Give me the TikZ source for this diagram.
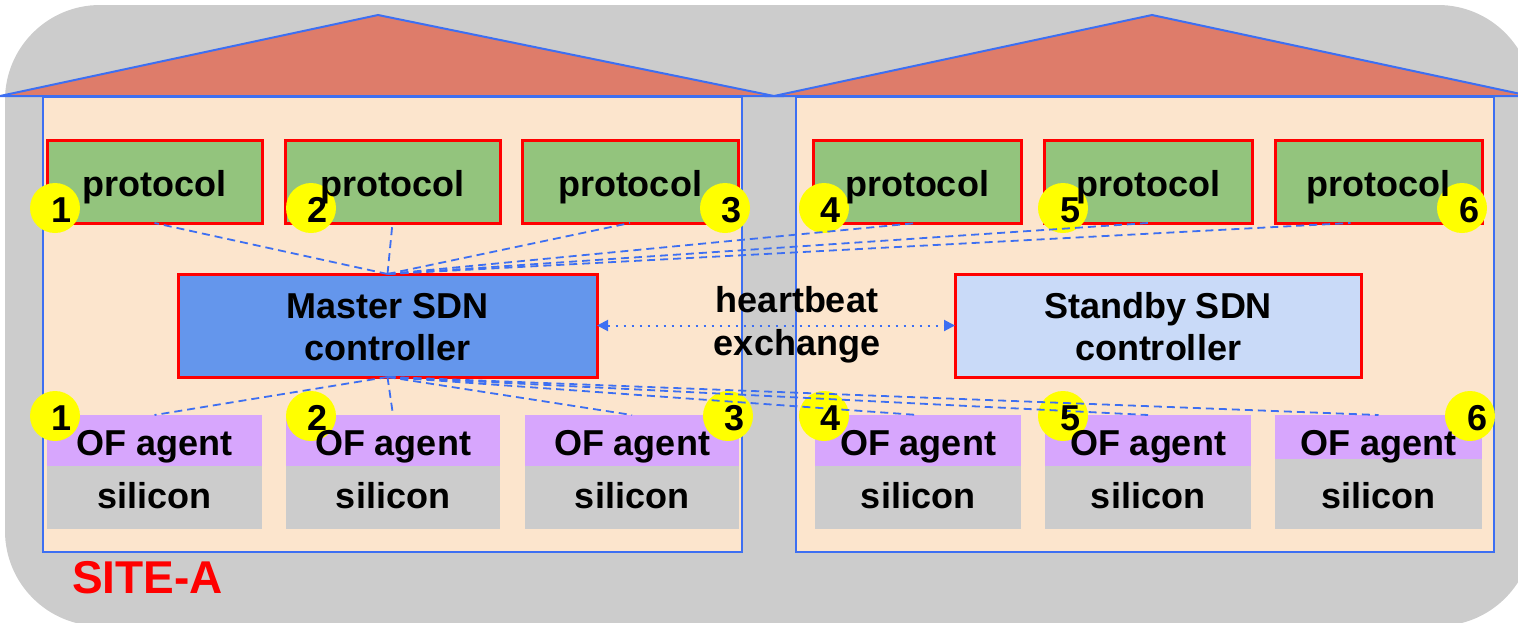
\documentclass[tikz,border=0pt]{standalone}
\usepackage{fontspec}
\setmainfont{Liberation Sans}
\usetikzlibrary{arrows.meta}
\definecolor{bggray}{HTML}{CCCCCC}
\definecolor{roofred}{HTML}{DE7C6A}
\definecolor{wall}{HTML}{FCE5CD}
\definecolor{edgeblue}{HTML}{3D6FF2}
\definecolor{protogreen}{HTML}{93C47D}
\definecolor{mastblue}{HTML}{6496EC}
\definecolor{standblue}{HTML}{C9DAF8}
\definecolor{agentpurple}{HTML}{D7A6FD}
\definecolor{chipgray}{HTML}{CCCCCC}
\definecolor{marker}{HTML}{FFFF00}

\begin{document}
\begin{tikzpicture}[x=1pt,y=-1pt,
  txt/.style={font=\fontsize{36}{40}\selectfont\bfseries, inner sep=0pt, anchor=base},
  redbox/.style={draw=red, line width=3pt, inner sep=0pt, outer sep=0pt},
  house/.style={fill=wall, draw=edgeblue, line width=2pt, inner sep=0pt, outer sep=0pt, anchor=north west},
  roof/.style={fill=roofred, draw=edgeblue, line width=2pt, line join=miter},
  flat/.style={inner sep=0pt, outer sep=0pt, anchor=north west},
  dot/.style={circle, fill=marker, minimum size=50pt, inner sep=0pt},
  num/.style={font=\fontsize{36}{40}\selectfont\bfseries, inner sep=0pt, anchor=base},
  link/.style={draw=edgeblue, line width=1.8pt, dash pattern=on 8pt off 5pt},
  hb/.style={draw=edgeblue, line width=2pt, dash pattern=on 2pt off 6pt,
    {Triangle[length=11pt,width=11pt]}-{Triangle[length=11pt,width=11pt]}}
]
\useasboundingbox (0,0) rectangle (1518,622);
\begin{scope}
\clip (0,0) rectangle (1518,622);
% site background
\fill[bggray, rounded corners=95pt] (5,5) rectangle (1533,626);
% roofs
\draw[roof] (0,96) -- (378,15) -- (774,96) -- cycle;
\draw[roof] (774,96) -- (1152,15) -- (1530,96) -- cycle;
\end{scope}

% buildings
\node[house, minimum width=699pt, minimum height=455pt] (siteL) at (43,97) {};
\node[house, minimum width=698pt, minimum height=455pt] (siteR) at (796,97) {};

% protocol boxes
\foreach \i/\xl/\xr in {1/47/262, 2/285/500, 3/522/738, 4/813/1021, 5/1044/1252, 6/1275/1482}{
  \node[redbox, fill=protogreen, minimum width={(\xr-\xl)*1pt}, minimum height=83pt]
    (p\i) at ({(\xl+\xr)/2},181.5) {};
}

% controllers
\node[redbox, fill=mastblue, minimum width=419pt, minimum height=103pt] (master) at (387.5,325.5) {};
\node[redbox, fill=standblue, minimum width=406pt, minimum height=103pt] (standby) at (1158,325.5) {};

% switches: OpenFlow agent on top of the silicon
\foreach \i/\xl/\xr/\h in {1/47/262/51, 2/286/500/51, 3/525/739/51, 4/815/1021/51, 5/1045/1251/51, 6/1275/1482/44}{
  \node[flat, fill=agentpurple, minimum width={(\xr-\xl)*1pt}, minimum height={\h*1pt}] (a\i) at (\xl,415) {};
  \node[flat, fill=chipgray, minimum width={(\xr-\xl)*1pt}, minimum height={(114-\h)*1pt}] (s\i) at (a\i.south west) {};
}

% numbered markers
\foreach \i/\xu/\xd in {1/55/55, 2/311/311, 3/725/728, 4/824/824, 5/1063/1063, 6/1462/1470}{
  \node[dot] (u\i) at (\xu,208) {};
  \node[dot] (d\i) at (\xd,416) {};
}

% controller sessions
\foreach \i in {1,...,5}{
  \draw[link] (master.north) -- (p\i.south);
}
\draw[link] (master.north) -- ([xshift=-28pt]p6.south);
\foreach \i in {1,...,6}{
  \draw[link] (master.south) -- (a\i.north);
}

% heartbeat
\draw[hb] (master.east) -- (standby.west);

% texts
\foreach \i in {1,...,6}{
  \node[txt] (pt\i) at ([yshift=-14.5pt]p\i.center) {protocol};
  \node[txt] (at\i) at (a\i.north |- 0,455) {OF agent};
  \node[txt] (st\i) at (s\i.north |- 0,508) {silicon};
  \node[num] (un\i) at ([xshift=7pt,yshift=-14pt]u\i.center) {\i};
  \node[num] (dn\i) at ([xshift=7pt,yshift=-14pt]d\i.center) {\i};
}
\node[txt] (m1) at (387.5,318) {Master SDN};
\node[txt] (m2) at (387.5,360) {controller};
\node[txt] (s1) at (1158,318) {Standby SDN};
\node[txt] (s2) at (1158,360) {controller};
\node[txt] (h1) at (797,312) {heartbeat};
\node[txt] (h2) at (797,355) {exchange};
\node[font=\fontsize{46}{50}\selectfont\bfseries, text=red, inner sep=0pt, anchor=base west] (site) at (72,593) {SITE-A};
\end{tikzpicture}
\end{document}
